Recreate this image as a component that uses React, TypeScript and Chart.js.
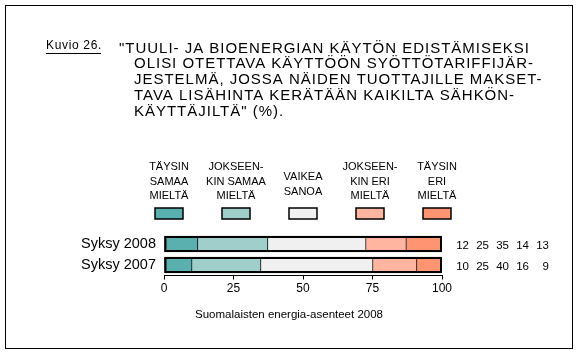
import { useEffect, useRef } from 'react';
import { Chart, registerables } from 'chart.js';

Chart.register(...registerables);

const FONT = '"Liberation Sans", Arial, sans-serif';

const categories = ['Syksy 2008', 'Syksy 2007'];

const agreeFully = [12.2, 10.1];
const agreeSomewhat = [25.2, 24.8];
const hardToSay = [35.3, 40.3];
const disagreeSomewhat = [14.5, 15.8];
const disagreeFully = [12.8, 9.0];

const valueLabels2008 = ['12', '25', '35', '14', '13'];
const valueLabels2007 = ['10', '25', '40', '16', '9'];

const legendLines = [
  ['TÄYSIN', 'SAMAA', 'MIELTÄ'],
  ['JOKSEEN-', 'KIN SAMAA', 'MIELTÄ'],
  ['VAIKEA', 'SANOA'],
  ['JOKSEEN-', 'KIN ERI', 'MIELTÄ'],
  ['TÄYSIN', 'ERI', 'MIELTÄ'],
];

const seriesColors = ['#5AAFAF', '#9FCECB', '#F0F0F0', '#FFB5A0', '#FF9473'];

const figureLabel = 'Kuvio 26.';
const titleLines = [
  '"TUULI- JA BIOENERGIAN KÄYTÖN EDISTÄMISEKSI',
  'OLISI OTETTAVA KÄYTTÖÖN SYÖTTÖTARIFFIJÄR-',
  'JESTELMÄ, JOSSA NÄIDEN TUOTTAJILLE MAKSET-',
  'TAVA LISÄHINTA KERÄTÄÄN KAIKILTA SÄHKÖN-',
  'KÄYTTÄJILTÄ" (%).',
];
const axisTitle = 'Suomalaisten energia-asenteet 2008';
const xMin = 0;
const xMax = 100;
const xStep = 25;

const series = [agreeFully, agreeSomewhat, hardToSay, disagreeSomewhat, disagreeFully];
const valueLabels = [valueLabels2008, valueLabels2007];

function fitSpacing(ctx: CanvasRenderingContext2D, text: string, target: number) {
  (ctx as any).letterSpacing = '0px';
  const w = ctx.measureText(text).width;
  return (target - w) / text.length;
}

const decorPlugin = {
  id: 'decor',
  afterDatasetsDraw(chart: any) {
    const ctx: CanvasRenderingContext2D = chart.ctx;
    const n = chart.data.datasets.length;
    const first = chart.getDatasetMeta(0).data;
    const last = chart.getDatasetMeta(n - 1).data;
    ctx.save();
    ctx.strokeStyle = '#000';
    ctx.lineWidth = 2;
    for (let i = 0; i < first.length; i++) {
      const a = first[i];
      const b = last[i];
      const left = Math.min(a.base, a.x);
      const right = Math.max(b.x, b.base);
      const top = a.y - a.height / 2;
      ctx.strokeRect(left + 1, top + 1, right - left - 2, a.height - 2);
    }
    ctx.restore();
  },
  afterDraw(chart: any) {
    const ctx: CanvasRenderingContext2D = chart.ctx;
    const area = chart.chartArea;
    ctx.save();
    ctx.fillStyle = '#000';
    ctx.textBaseline = 'alphabetic';

    // figure border
    ctx.strokeStyle = '#000';
    ctx.lineWidth = 1;
    ctx.strokeRect(5.5, 5.5, 567, 343);

    // figure label
    ctx.font = `12px ${FONT}`;
    ctx.textAlign = 'left';
    const ls = fitSpacing(ctx, figureLabel, 56);
    (ctx as any).letterSpacing = `${ls}px`;
    ctx.fillText(figureLabel, 46, 49);
    ctx.fillRect(46, 53, 55, 1);

    // title
    ctx.font = `15px ${FONT}`;
    const ts = fitSpacing(ctx, titleLines[0], 411);
    (ctx as any).letterSpacing = `${ts}px`;
    titleLines.forEach((line, i) => {
      ctx.fillText(line, i === 0 ? 119 : 134, 52.5 + i * 15.8);
    });

    // legend
    (ctx as any).letterSpacing = '0px';
    ctx.font = `11px ${FONT}`;
    ctx.textAlign = 'center';
    ctx.textBaseline = 'middle';
    const cx = (area.left + area.right) / 2;
    legendLines.forEach((lines, i) => {
      const x = cx + (i - 2) * 67;
      const y0 = lines.length === 3 ? 167 : 177;
      lines.forEach((t, j) => ctx.fillText(t, x, y0 + j * 14.5));
      ctx.fillStyle = seriesColors[i];
      ctx.fillRect(x - 14, 208, 28, 11);
      ctx.strokeStyle = '#000';
      ctx.lineWidth = 1.5;
      ctx.strokeRect(x - 14, 208, 28, 11);
      ctx.fillStyle = '#000';
    });

    // value labels at right
    ctx.font = `11.5px ${FONT}`;
    ctx.textAlign = 'right';
    const meta = chart.getDatasetMeta(0).data;
    valueLabels.forEach((labels, r) => {
      const y = meta[r].y + 2;
      labels.forEach((t, k) => ctx.fillText(t, area.right + 27 + k * 20, y));
    });

    // axis title
    ctx.font = `11.5px ${FONT}`;
    ctx.textAlign = 'center';
    ctx.fillText(axisTitle, 289, 315);
    ctx.restore();
  },
};

export default function App() {
  const ref = useRef<HTMLCanvasElement>(null);
  useEffect(() => {
    if (!ref.current) return;
    const chart = new Chart(ref.current, {
      type: 'bar',
      data: {
        labels: categories,
        datasets: series.map((d, i) => ({
          label: legendLines[i].join(' '),
          data: d,
          backgroundColor: seriesColors[i],
          borderColor: '#000',
          borderWidth: 1,
          borderSkipped: i === 0 ? false : 'left',
          barThickness: 16,
        })) as any,
      },
      options: {
        indexAxis: 'y',
        responsive: false,
        animation: false,
        layout: { padding: { left: 0, right: 135, top: 233.5, bottom: 0 } },
        plugins: { legend: { display: false }, tooltip: { enabled: false } },
        scales: {
          x: {
            stacked: true,
            min: xMin,
            max: xMax,
            ticks: { stepSize: xStep, color: '#000', font: { family: FONT, size: 12 }, padding: 2, maxRotation: 0 },
            grid: { drawOnChartArea: false, drawTicks: true, tickLength: 4, color: '#000' },
            border: { display: true, color: '#000', width: 1 },
            afterFit: (s: any) => { s.height = 79.5; },
          },
          y: {
            stacked: true,
            ticks: { color: '#000', font: { family: FONT, size: 14.5 }, padding: 8 },
            grid: { display: false, drawTicks: false, tickLength: 0 },
            border: { display: false },
            afterFit: (s: any) => { s.width = 164; },
          },
        },
      } as any,
      plugins: [decorPlugin],
    });
    return () => chart.destroy();
  }, []);
  return (
    <div style={{ position: 'absolute', left: 0, top: 0, width: 577, height: 355, background: '#fff' }}>
      <canvas ref={ref} width={577} height={355} />
    </div>
  );
}
